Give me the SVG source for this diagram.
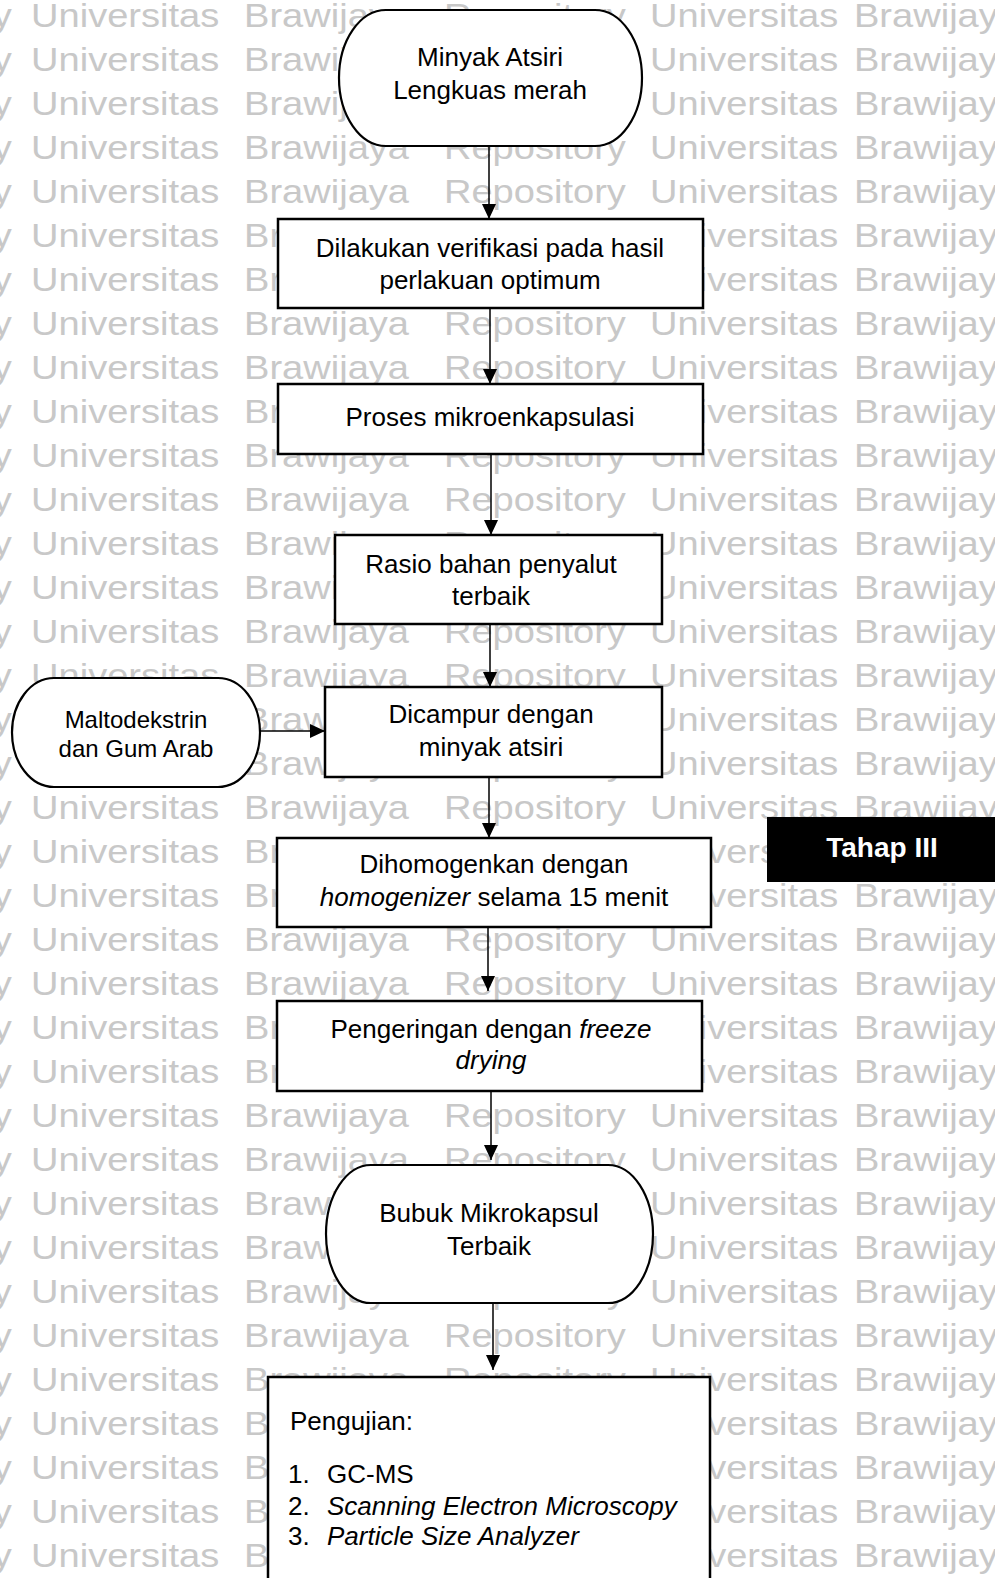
<svg xmlns="http://www.w3.org/2000/svg" xmlns:xlink="http://www.w3.org/1999/xlink" width="995" height="1578" viewBox="0 0 995 1578">
<style>
.wm{font-family:"Liberation Sans",Arial,sans-serif;font-size:34px;fill:#c8c8c8}
.box{fill:#fff;stroke:#000;stroke-width:2.5}
.term{fill:#fff;stroke:#000;stroke-width:2.2}
.t{font-family:"Liberation Sans",Arial,sans-serif;font-size:26px;fill:#000;text-anchor:middle}
.tl{font-family:"Liberation Sans",Arial,sans-serif;font-size:26px;fill:#000}
.s{font-family:"Liberation Sans",Arial,sans-serif;font-size:24px;fill:#000;text-anchor:middle}
.i{font-style:italic}
.conn line{stroke:#000;stroke-width:1.5;marker-end:url(#ah)}
</style>
<defs>
<marker id="ah" markerUnits="userSpaceOnUse" markerWidth="15" markerHeight="14" refX="15" refY="7" orient="auto"><path d="M0,0 L15,7 L0,14 z" fill="#000"/></marker>
<text id="wr" class="wm" y="27" transform="scale(1.12 1)"><tspan x="-6.5">y</tspan><tspan x="27.7">Universitas</tspan><tspan x="217.9">Brawijaya</tspan><tspan x="396.4">Repository</tspan><tspan x="580.4">Universitas</tspan><tspan x="762.5">Brawijaya</tspan></text>
</defs>
<rect width="995" height="1578" fill="#fff"/>
<g id="watermark">
<use xlink:href="#wr" y="0"/><use xlink:href="#wr" y="44"/><use xlink:href="#wr" y="88"/><use xlink:href="#wr" y="132"/><use xlink:href="#wr" y="176"/><use xlink:href="#wr" y="220"/><use xlink:href="#wr" y="264"/><use xlink:href="#wr" y="308"/><use xlink:href="#wr" y="352"/><use xlink:href="#wr" y="396"/><use xlink:href="#wr" y="440"/><use xlink:href="#wr" y="484"/><use xlink:href="#wr" y="528"/><use xlink:href="#wr" y="572"/><use xlink:href="#wr" y="616"/><use xlink:href="#wr" y="660"/><use xlink:href="#wr" y="704"/><use xlink:href="#wr" y="748"/><use xlink:href="#wr" y="792"/><use xlink:href="#wr" y="836"/><use xlink:href="#wr" y="880"/><use xlink:href="#wr" y="924"/><use xlink:href="#wr" y="968"/><use xlink:href="#wr" y="1012"/><use xlink:href="#wr" y="1056"/><use xlink:href="#wr" y="1100"/><use xlink:href="#wr" y="1144"/><use xlink:href="#wr" y="1188"/><use xlink:href="#wr" y="1232"/><use xlink:href="#wr" y="1276"/><use xlink:href="#wr" y="1320"/><use xlink:href="#wr" y="1364"/><use xlink:href="#wr" y="1408"/><use xlink:href="#wr" y="1452"/><use xlink:href="#wr" y="1496"/><use xlink:href="#wr" y="1540"/>
</g>
<g class="conn" id="connectors">
<line x1="489" y1="146" x2="489" y2="219"/>
<line x1="490" y1="308" x2="490" y2="384"/>
<line x1="491" y1="454" x2="491" y2="535"/>
<line x1="490" y1="624" x2="490" y2="687"/>
<line x1="260" y1="731" x2="325" y2="731"/>
<line x1="489" y1="777" x2="489" y2="838"/>
<line x1="488" y1="927" x2="488" y2="991"/>
<line x1="491" y1="1091" x2="491" y2="1160"/>
<line x1="493" y1="1300" x2="493" y2="1370"/>
</g>
<g id="n1"><rect class="term" x="339" y="10" width="303" height="136" rx="47" ry="68"/><text class="t" x="490" y="66">Minyak Atsiri</text><text class="t" x="490" y="99">Lengkuas merah</text></g>
<g id="n2"><rect class="box" x="278" y="219" width="425" height="89"/><text class="t" x="490" y="257">Dilakukan verifikasi pada hasil</text><text class="t" x="490" y="289">perlakuan optimum</text></g>
<g id="n3"><rect class="box" x="278" y="384" width="425" height="70"/><text class="t" x="490" y="426">Proses mikroenkapsulasi</text></g>
<g id="n4"><rect class="box" x="335" y="535" width="327" height="89"/><text class="t" x="491" y="573">Rasio bahan penyalut</text><text class="t" x="491" y="605">terbaik</text></g>
<g id="n5"><rect class="box" x="325" y="687" width="337" height="90"/><text class="t" x="491" y="723">Dicampur dengan</text><text class="t" x="491" y="756">minyak atsiri</text></g>
<g id="n5b"><rect class="term" x="12" y="678" width="248" height="109" rx="42" ry="54.5"/><text class="s" x="136" y="728">Maltodekstrin</text><text class="s" x="136" y="757">dan Gum Arab</text></g>
<g id="n6"><rect class="box" x="277" y="838" width="434" height="89"/><text class="t" x="494" y="873">Dihomogenkan dengan</text><text class="t" x="494" y="906"><tspan class="i">homogenizer</tspan> selama 15 menit</text></g>
<g id="tahap"><rect x="767" y="817" width="240" height="65" fill="#000"/><text x="882" y="857" font-family="Liberation Sans,Arial,sans-serif" font-size="28" font-weight="bold" fill="#fff" text-anchor="middle">Tahap III</text></g>
<g id="n7"><rect class="box" x="277" y="1001" width="425" height="90"/><text class="t" x="491" y="1038">Pengeringan dengan <tspan class="i">freeze</tspan></text><text class="t i" x="491" y="1069">drying</text></g>
<g id="n8"><rect class="term" x="326" y="1165" width="327" height="138" rx="45" ry="69"/><text class="t" x="489" y="1222">Bubuk Mikrokapsul</text><text class="t" x="489" y="1255">Terbaik</text></g>
<g id="n9"><rect class="box" x="268" y="1377" width="442" height="230"/>
<text class="tl" x="290" y="1430">Pengujian:</text>
<text class="tl" x="288" y="1483">1.</text><text class="tl" x="327" y="1483">GC-MS</text>
<text class="tl" x="288" y="1515">2.</text><text class="tl i" x="327" y="1515">Scanning Electron Microscopy</text>
<text class="tl" x="288" y="1545">3.</text><text class="tl i" x="327" y="1545">Particle Size Analyzer</text>
</g>
</svg>
